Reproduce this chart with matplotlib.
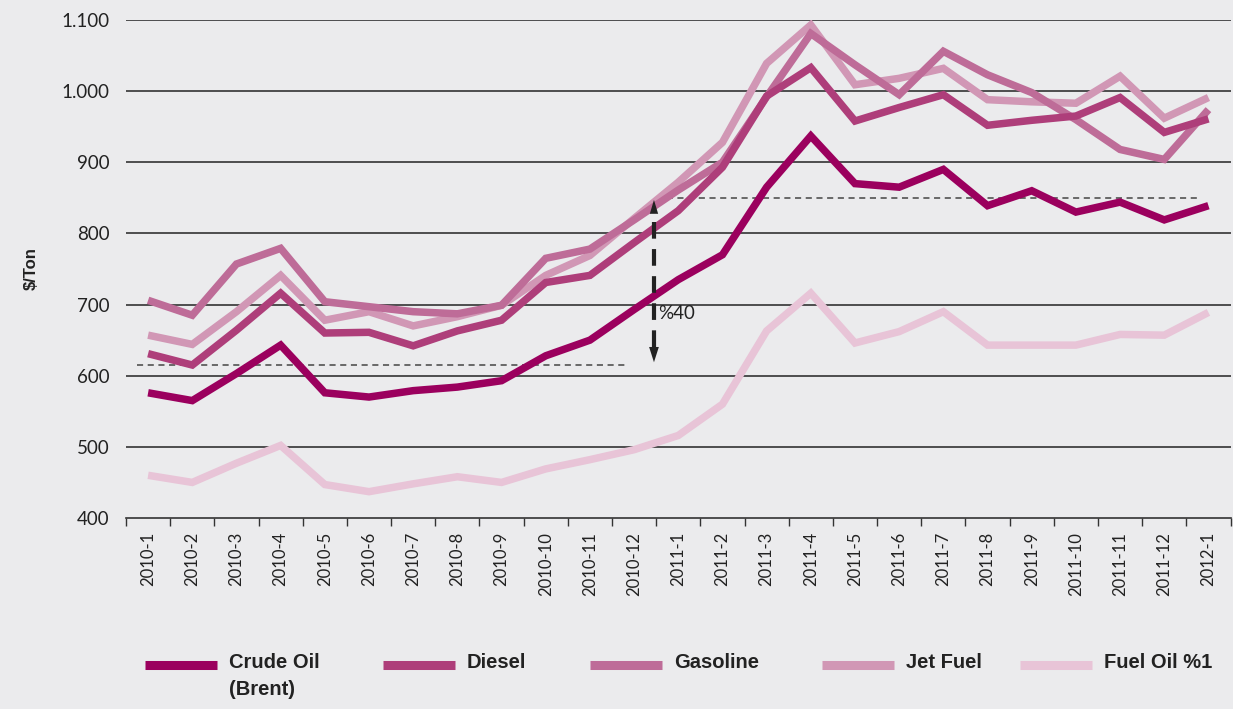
import matplotlib.pyplot as plt
from matplotlib.lines import Line2D
from matplotlib.ticker import FuncFormatter

# data ($/Ton, monthly)
months = ['2010-1', '2010-2', '2010-3', '2010-4', '2010-5', '2010-6', '2010-7', '2010-8',
          '2010-9', '2010-10', '2010-11', '2010-12', '2011-1', '2011-2', '2011-3', '2011-4',
          '2011-5', '2011-6', '2011-7', '2011-8', '2011-9', '2011-10', '2011-11', '2011-12', '2012-1']
crude = [576, 565, 603, 643, 576, 570, 579, 584, 593, 628, 650, 693, 735, 770, 865, 937,
         870, 865, 890, 839, 860, 830, 844, 819, 839]
diesel = [631, 615, 664, 716, 660, 661, 642, 663, 678, 731, 741, 787, 832, 893, 993, 1033,
          958, 977, 995, 952, 959, 965, 991, 942, 961]
gasoline = [706, 685, 757, 779, 704, 697, 690, 687, 699, 765, 778, 819, 861, 900, 992, 1081,
            1037, 995, 1056, 1023, 998, 960, 918, 904, 974]
jet = [657, 644, 690, 741, 678, 690, 670, 683, 699, 741, 769, 821, 872, 928, 1039, 1093,
       1009, 1018, 1032, 988, 985, 983, 1021, 962, 991]
fuel = [460, 450, 477, 502, 447, 437, 448, 458, 450, 469, 482, 496, 516, 560, 663, 716,
        646, 662, 690, 643, 643, 643, 658, 657, 689]

series_names = ['Crude Oil\n(Brent)', 'Diesel', 'Gasoline', 'Jet Fuel', 'Fuel Oil %1']
colors = ['#9b005e', '#ae3e7a', '#be6c98', '#d197b5', '#e8c4d7']
bg = '#ebebed'
bold_font = ['Liberation Sans Narrow', 'Liberation Sans', 'DejaVu Sans']

plt.rcParams['font.family'] = ['Lato', 'DejaVu Sans']

fig = plt.figure(figsize=(12.33, 7.09), dpi=100, facecolor=bg)
ax = fig.add_axes([0.1022, 0.2694, 0.8958, 0.7024], facecolor=bg)

x = list(range(len(months)))
# grid lines
for v in range(500, 1101, 100):
    ax.axhline(v, color='#333333', lw=1.2, zorder=1)

all_series = [crude, diesel, gasoline, jet, fuel]
order = [4, 3, 2, 1, 0]
for i in order:
    ax.plot(x, all_series[i], color=colors[i], lw=5.4, solid_joinstyle='miter',
            solid_capstyle='butt', zorder=3 + (4 - i))

# annotation: dashed reference levels and the %40 arrow
ax.plot([-0.25, 10.8], [615, 615], color='#444444', lw=1.1, ls=(0, (4, 3)), zorder=2)
ax.plot([11.5, 23.8], [850, 850], color='#444444', lw=1.1, ls=(0, (4, 3)), zorder=2)
ax.plot([11.45, 11.45], [640, 825], color='#222222', lw=3, ls=(0, (4, 2.5)), zorder=10)
ax.annotate('', xy=(11.45, 615), xytext=(11.45, 645),
            arrowprops=dict(arrowstyle='-|>,head_width=0.35,head_length=1.1', color='#222222', lw=0),
            zorder=11)
ax.annotate('', xy=(11.45, 851), xytext=(11.45, 822),
            arrowprops=dict(arrowstyle='-|>,head_width=0.3,head_length=1.0', color='#222222', lw=0),
            zorder=11)
ax.text(11.55, 688, '%40', fontsize=13.5, color='#222222', va='center', ha='left', zorder=12)

ax.set_xlim(-0.5, len(months) - 0.5)
ax.set_ylim(400, 1100)
ax.set_yticks(range(400, 1101, 100))
ax.yaxis.set_major_formatter(FuncFormatter(lambda v, p: f'{int(v):,}'.replace(',', '.')))
ax.tick_params(axis='y', length=0, pad=12, labelsize=13.5, colors='#222222')

ax.set_xticks([i - 0.5 for i in range(len(months) + 1)])
ax.set_xticklabels([])
ax.set_xticks(x, minor=True)
ax.set_xticklabels(months, minor=True, rotation=90, fontsize=12, color='#222222')
ax.tick_params(axis='x', which='major', length=6, width=1, color='#333333', direction='out')
ax.tick_params(axis='x', which='minor', length=0, pad=10)

for s in ['top', 'right', 'left']:
    ax.spines[s].set_visible(False)
ax.spines['bottom'].set_color('#333333')
ax.spines['bottom'].set_linewidth(1.2)

ax.set_ylabel('$/Ton', fontsize=12, fontweight='bold', family=bold_font, labelpad=16,
              color='#222222')

# legend along the bottom
handle_x = [145, 383, 590, 822, 1020]
for hx, name, c in zip(handle_x, series_names, colors):
    y0 = 1 - 665 / 709
    fig.add_artist(Line2D([hx / 1233, (hx + 72) / 1233], [y0, y0], color=c, lw=6.5,
                          solid_capstyle='butt', transform=fig.transFigure))
    fig.text((hx + 84) / 1233, 1 - 653 / 709, name, fontsize=14.5, fontweight='bold',
             family=bold_font, color='#222222', va='top', ha='left', linespacing=1.55)

fig.savefig('out.png', dpi=100, facecolor=bg)
